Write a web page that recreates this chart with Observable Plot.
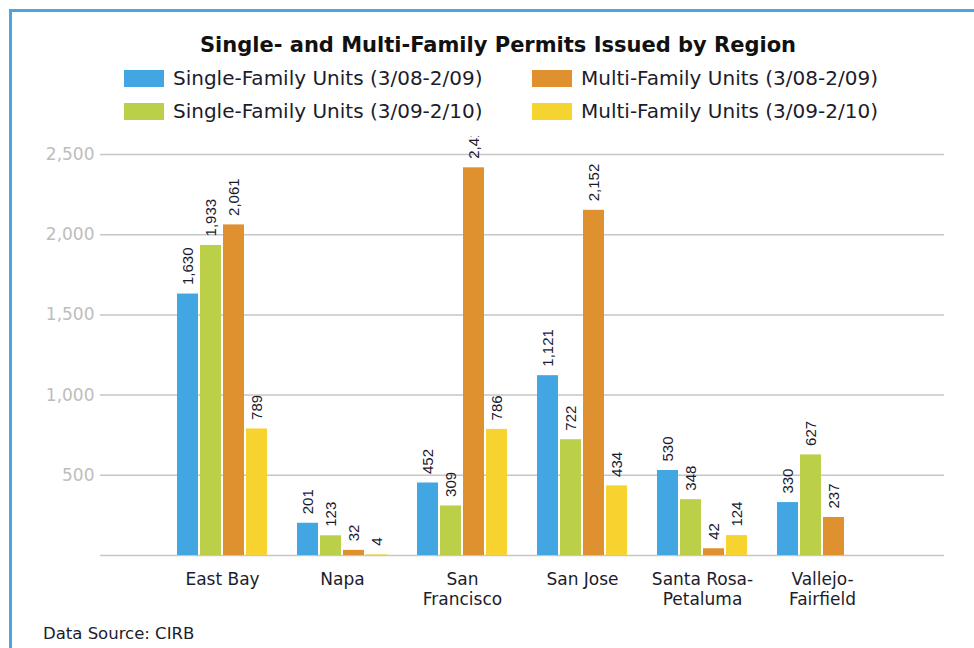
<!DOCTYPE html>
<html>
<head>
<meta charset="utf-8">
<script src="https://cdn.jsdelivr.net/npm/d3@7"></script>
<script src="https://cdn.jsdelivr.net/npm/@observablehq/plot@0.6"></script>
<style>
  body { margin: 0; background: #fff; width: 974px; height: 648px; overflow: hidden; position: relative; font-family: "DejaVu Sans", sans-serif; }
  #frame { position: absolute; left: 9px; top: 9px; width: 980px; height: 660px; border-left: 3px solid #4aa6e3; border-top: 3px solid #4aa6e3; }
  #title { position: absolute; top: 33px; left: 0; width: 996px; text-align: center; font-weight: bold; font-size: 21px; line-height: normal; color: #111; white-space: nowrap; }
  .lg { position: absolute; font-size: 20px; color: #1c1c2c; line-height: 23px; white-space: nowrap; }
  .sw { position: absolute; width: 40px; height: 17px; }
  #chart { position: absolute; left: 0; top: 136px; }
  #caption { position: absolute; left: 43px; top: 624px; font-size: 16.5px; color: #1c1c2c; white-space: nowrap; }
</style>
</head>
<body>
<div id="frame"></div>
<div id="title">Single- and Multi-Family Permits Issued by Region</div>
<div id="legend"></div>
<div id="chart"></div>
<div id="caption">Data Source: CIRB</div>
<script>
const regions = ["East Bay", "Napa", "San Francisco", "San Jose", "Santa Rosa-Petaluma", "Vallejo-Fairfield"];
const regionLabels = ["East Bay", "Napa", "San\nFrancisco", "San Jose", "Santa Rosa-\nPetaluma", "Vallejo-\nFairfield"];
const series = [
  "Single-Family Units (3/08-2/09)",
  "Single-Family Units (3/09-2/10)",
  "Multi-Family Units (3/08-2/09)",
  "Multi-Family Units (3/09-2/10)"
];
const colors = ["#41a6e1", "#bccf49", "#e0912f", "#f7d330"];
const singleFamily0809 = [1630, 201, 452, 1121, 530, 330];
const singleFamily0910 = [1933, 123, 309, 722, 348, 627];
const multiFamily0809 = [2061, 32, 2417, 2152, 42, 237];
const multiFamily0910 = [789, 4, 786, 434, 124, null];
const yTicks = [0, 500, 1000, 1500, 2000, 2500];

const seriesValues = [singleFamily0809, singleFamily0910, multiFamily0809, multiFamily0910];
const data = [];
regions.forEach((r, i) => {
  seriesValues.forEach((arr, j) => {
    if (arr[i] != null) data.push({region: r, series: series[j], value: arr[i]});
  });
});

// legend: 2 columns (single / multi), 2 rows (period)
const legend = document.getElementById("legend");
const colX = [124, 532];
const rowY = [70, 103];
series.forEach((s, j) => {
  const col = j < 2 ? 0 : 1;
  const row = j % 2;
  const sw = document.createElement("div");
  sw.className = "sw";
  sw.style.left = colX[col] + "px";
  sw.style.top = rowY[row] + "px";
  sw.style.background = colors[j];
  legend.appendChild(sw);
  const t = document.createElement("div");
  t.className = "lg";
  t.style.left = (colX[col] + 49) + "px";
  t.style.top = (rowY[row] - 3) + "px";
  t.textContent = s;
  legend.appendChild(t);
});

const fmt = d3.format(",");
const grid = "#c6c6c6";
const lastRegion = regions[regions.length - 1];
const chart = Plot.plot({
  width: 974,
  height: 479,
  marginTop: 18,
  marginBottom: 60,
  marginLeft: 162,
  marginRight: 92,
  style: {fontFamily: "DejaVu Sans", fontSize: "17px", background: "transparent", overflow: "hidden", color: "#1c1c2c"},
  fx: {domain: regions, padding: 0, label: null},
  x: {domain: series, paddingInner: 0.08, paddingOuter: 0.553, axis: null},
  y: {domain: [0, 2500], label: null},
  color: {domain: series, range: colors},
  marks: [
    Plot.ruleY(yTicks, {stroke: grid, strokeWidth: 1.5}),
    Plot.ruleY(yTicks, {y: d => d, fx: () => lastRegion, insetLeft: 120, insetRight: -62, stroke: grid, strokeWidth: 1.5}),
    Plot.axisY({ticks: yTicks, tickSize: 62, tickPadding: 6, tickFormat: d => d === 0 ? "" : fmt(d), stroke: grid, strokeWidth: 1.5, fill: "#bdbdbd", label: null}),
    Plot.axisFx({anchor: "bottom", tickSize: 0, tickPadding: 15, tickFormat: d => regionLabels[regions.indexOf(d)], lineHeight: 1.18, label: null, fill: "#1c1c2c"}),
    Plot.barY(data, {fx: "region", x: "series", y: "value", fill: "series"}),
    Plot.text(data, {fx: "region", x: "series", y: "value", text: d => fmt(d.value), rotate: -90, textAnchor: "start", dy: -9, fontFamily: "Liberation Sans", fontSize: 15, fill: "#1a1a2e"})
  ]
});
document.getElementById("chart").appendChild(chart);
</script>
</body>
</html>
